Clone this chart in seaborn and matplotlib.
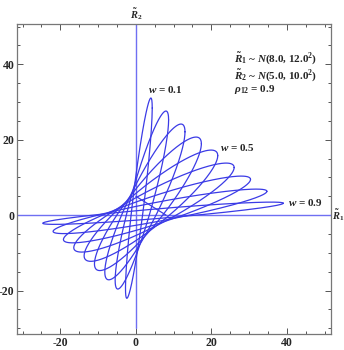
import numpy as np
import pandas as pd
import matplotlib
matplotlib.use("Agg")
import matplotlib.pyplot as plt
import seaborn as sns
from matplotlib.ticker import MultipleLocator

# Parameters shown in the chart
mu1, sd1 = 8.0, 12.0
mu2, sd2 = 5.0, 10.0
rho12 = 0.9
weights = [0.1, 0.2, 0.3, 0.4, 0.5, 0.6, 0.7, 0.8, 0.9]
label_weights = [0.1, 0.5, 0.9]
label_x = [3.2, 22.3, 40.3]
label_y = [33.4, 18.0, 3.4]
radius = 2.95
xticks = [-20, 0, 20, 40]
yticks = [-20, 0, 20, 40]

t = np.linspace(0, 2 * np.pi, 400)
rows = []
for w in weights:
    mx, my = w * mu1, (1 - w) * mu2
    sx, sy = w * sd1, (1 - w) * sd2
    xs = mx + radius * sx * np.cos(t)
    ys = my + radius * sy * (rho12 * np.cos(t) + np.sqrt(1 - rho12 ** 2) * np.sin(t))
    for i, (a, b) in enumerate(zip(xs, ys)):
        rows.append({"w": w, "i": i, "x": a, "y": b})
df = pd.DataFrame(rows)

sns.set_theme(style="white")
plt.rcParams["font.family"] = ["Liberation Serif", "DejaVu Serif"]
plt.rcParams["axes.unicode_minus"] = False
plt.rcParams["mathtext.fontset"] = "custom"
plt.rcParams["mathtext.rm"] = "Liberation Serif:bold"
plt.rcParams["mathtext.it"] = "Liberation Serif:italic:bold"
plt.rcParams["mathtext.bf"] = "Liberation Serif:bold"

fig = plt.figure(figsize=(3.44, 3.5), dpi=100)
ax = fig.add_axes([17.3 / 344, 1 - 334.3 / 350, (331 - 17.3) / 344, (334.3 - 24.3) / 350])

curve_color = "#3b3be6"
axis_color = "#6f6ff2"
ax.axvline(0, ymin=(-30 + 31.6) / 82.2, ymax=1, color=axis_color, lw=1.0, zorder=1)
ax.axhline(0, color=axis_color, lw=1.0, zorder=1)

sns.lineplot(data=df, x="x", y="y", units="w", estimator=None, sort=False,
             color=curve_color, lw=0.9, ax=ax, legend=False)
# locus of means
ax.plot([0, mu1], [mu2, 0], color=curve_color, lw=0.9)

ax.set_xlim(-31.4, 51.7)
ax.set_ylim(-31.6, 50.6)
ax.set_xlabel("")
ax.set_ylabel("")
ax.xaxis.set_minor_locator(MultipleLocator(5))
ax.yaxis.set_minor_locator(MultipleLocator(5))
ax.set_xticks(xticks)
ax.set_yticks(yticks)
ax.tick_params(which="both", direction="in", top=True, right=True, bottom=True, left=True,
               color="#555555", width=0.7)
ax.tick_params(which="major", length=4, labelsize=8.5, pad=2)
ax.tick_params(which="minor", length=2.2)
for lab in ax.get_xticklabels() + ax.get_yticklabels():
    lab.set_fontweight("bold")
for s in ax.spines.values():
    s.set_color("#777777")
    s.set_linewidth(0.9)

ax.text(52.0, 0, r"$\tilde{R}_1$", fontsize=7.5, va="center", ha="left", clip_on=False)
ax.text(0, 51.3, r"$\tilde{R}_2$", fontsize=7.5, va="bottom", ha="center", clip_on=False)

for w, lx, ly in zip(label_weights, label_x, label_y):
    ax.text(lx, ly, rf"$w$ = {w}", fontsize=8, fontweight="bold",
            ha="left", va="center")

ax.text(26, 41.6, r"$\tilde{R}_1$ ~ $N$(8.0, 12.0$^2$)", fontsize=8, fontweight="bold", va="center")
ax.text(26, 37.0, r"$\tilde{R}_2$ ~ $N$(5.0, 10.0$^2$)", fontsize=8, fontweight="bold", va="center")
ax.text(26, 33.4, r"$\rho_{12}$ = 0.9", fontsize=8, fontweight="bold", va="center")

fig.savefig("out.png", dpi=100)
